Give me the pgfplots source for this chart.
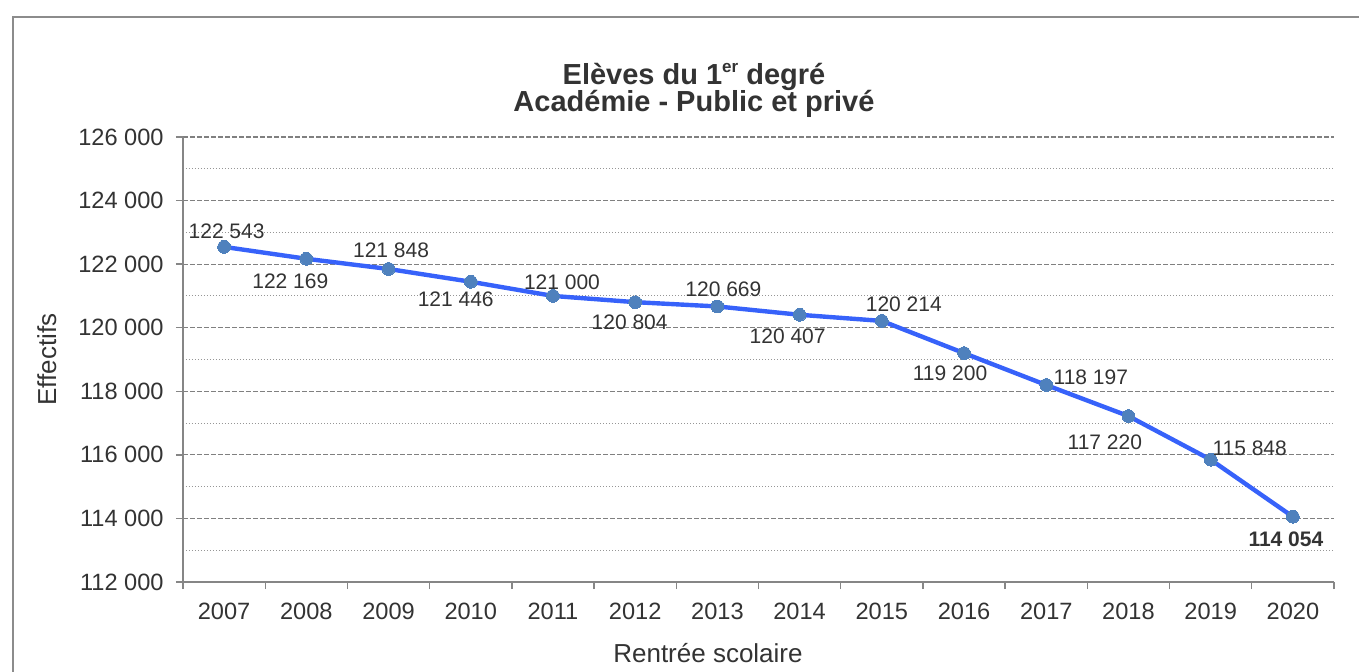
\documentclass[border=0pt]{standalone}
\usepackage{pgfplots}
\pgfplotsset{compat=1.18}
\usepackage{pgfplotstable}
\usepackage{fontspec}
\setmainfont{Liberation Sans}
\definecolor{txt}{RGB}{51,51,51}
\definecolor{axgray}{RGB}{134,134,134}
\definecolor{gridgray}{RGB}{128,128,128}
\definecolor{dotgray}{RGB}{150,150,150}
\definecolor{lineblue}{RGB}{55,98,250}
\definecolor{markblue}{RGB}{79,129,189}
\definecolor{framegray}{RGB}{140,140,140}

\pgfplotstableread{
x y dx dy b
0  122543  1.25   8     0
1  122169 -8     -11.2  0
2  121848  1.25   9.5   0
3  121446 -7.5   -9     0
4  121000  4.5    7     0
5  120804 -2.75  -10    0
6  120669  3      8.5   0
7  120407 -6     -10.5  0
8  120214  11     8.5   0
9  119200 -7     -10    0
10 118197  22.3   3.75  0
11 117220 -11.8  -13.25 0
12 115848  19.5   5.75  0
13 114054 -3.5   -11.5  1
}\datatable

\begin{document}
\begin{tikzpicture}
\useasboundingbox (-91.5pt,-44.5pt) rectangle (588pt,291pt);
\draw[framegray, line width=0.8pt] (-85pt,-45pt) -- (-85pt,282.5pt) -- (589pt,282.5pt);
\begin{axis}[
  at={(0,0)}, anchor=south west,
  scale only axis, width=575.5pt, height=222.5pt,
  xmin=-0.5, xmax=13.5, ymin=112000, ymax=126000,
  axis x line*=bottom, axis y line*=left,
  axis line style={axgray, line width=0.7pt},
  tick align=outside,
  major tick length=3.5pt, minor tick length=0pt,
  tick style={axgray, line width=0.7pt},
  xtick={-0.5,0.5,...,13.5},
  x tick label as interval,
  xticklabels={2007,2008,2009,2010,2011,2012,2013,2014,2015,2016,2017,2018,2019,2020},
  ytick={112000,114000,...,126000},
  minor y tick num=1,
  scaled y ticks=false,
  ymajorgrids, yminorgrids,
  major grid style={gridgray, line width=0.6pt, dash pattern=on 2.5pt off 1pt},
  minor grid style={dotgray, line width=0.55pt, dash pattern=on 0.5pt off 1pt},
  /pgf/number format/.cd, fixed, precision=0, 1000 sep={\ }, assume math mode=true,
  /pgfplots/.cd,
  tick label style={font=\fontsize{11.8}{13}\selectfont, text=txt},
  yticklabel style={anchor=east, inner sep=0pt, xshift=-6pt},
  xticklabel style={anchor=center, yshift=-11pt},
  xlabel={Rentrée scolaire}, ylabel={Effectifs},
  every axis x label/.style={at={(axis description cs:0.4561,-0.1596)}, anchor=center, font=\fontsize{13}{15}\selectfont, text=txt},
  every axis y label/.style={at={(axis description cs:-0.1182,0.5)}, rotate=90, anchor=center, font=\fontsize{13}{15}\selectfont, text=txt},
  clip=false,
]
\addplot[lineblue, line width=2.2pt, mark=*, mark size=3.2pt,
  mark options={fill=markblue, draw=markblue, line width=0pt},
  point meta=\thisrow{y},
  visualization depends on={\thisrow{dx} \as \dx},
  visualization depends on={\thisrow{dy} \as \dy},
  visualization depends on={\thisrow{b} \as \isbold},
  nodes near coords={\ifdim\isbold pt>0.5pt\bfseries\fi\pgfmathprintnumber{\pgfplotspointmeta}},
  nodes near coords style={anchor=center, inner sep=0pt, xshift=\dx pt, yshift=\dy pt, font=\fontsize{10.5}{12}\selectfont, text=txt},
] table[x=x, y=y] {\datatable};
\end{axis}
\node[text=txt, font=\fontsize{14.5}{17}\selectfont\bfseries, anchor=base] at (255.5pt,248.5pt) {Elèves du 1\raisebox{0.42em}{\fontsize{8.5}{9}\selectfont er} degré};
\node[text=txt, font=\fontsize{14.5}{17}\selectfont\bfseries, anchor=base] at (255.5pt,235.5pt) {Académie - Public et privé};
\end{tikzpicture}
\end{document}
